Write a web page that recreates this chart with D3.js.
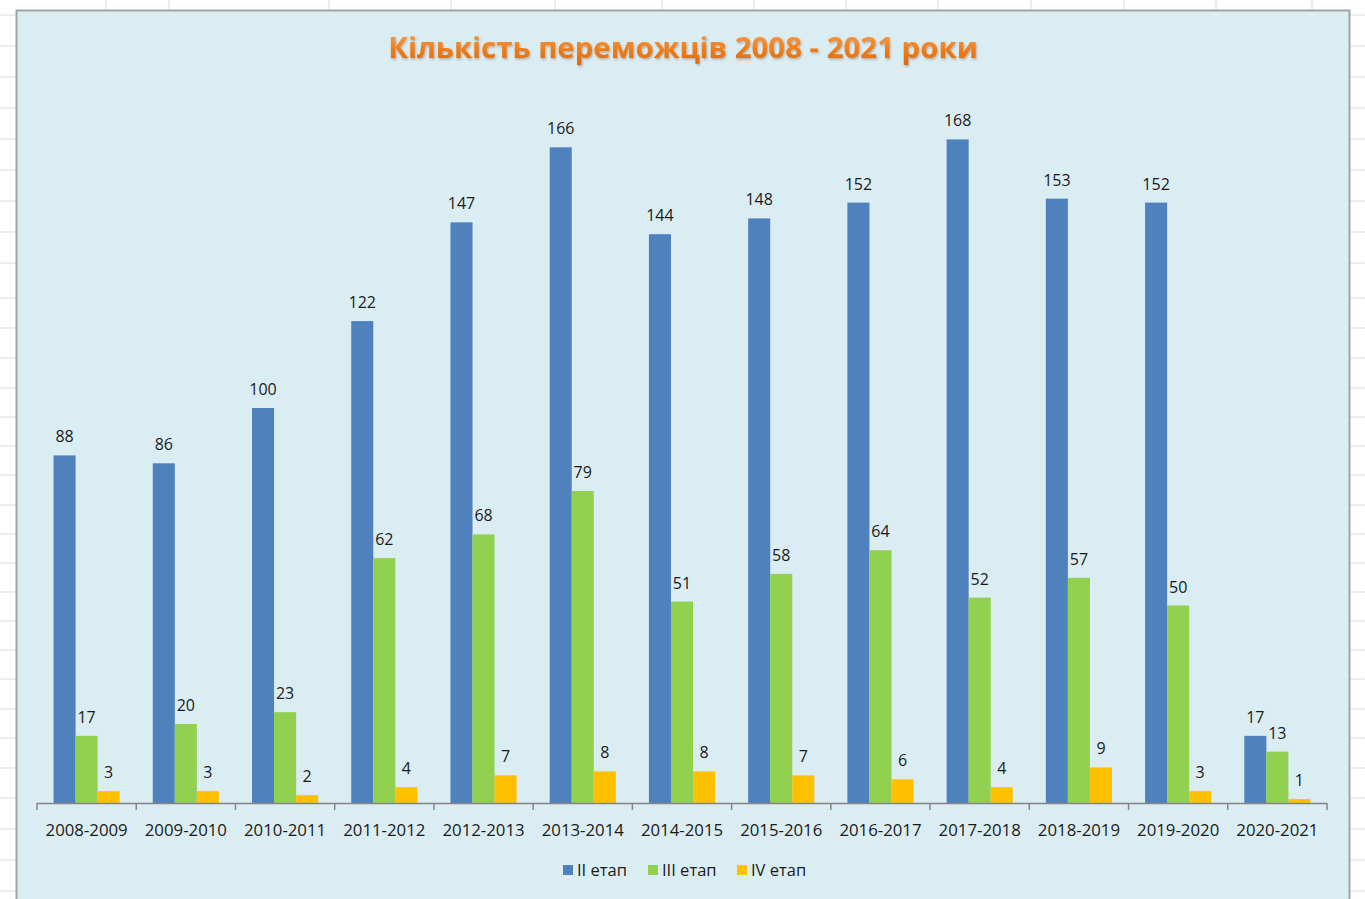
<!DOCTYPE html>
<html>
<head>
<meta charset="utf-8">
<script src="https://cdn.jsdelivr.net/npm/d3@7"></script>
<style>
  body { margin: 0; background: #fff; }
  svg { display: block; }
</style>
</head>
<body>
<div id="chart"></div>
<script>
const categories = ['2008-2009', '2009-2010', '2010-2011', '2011-2012', '2012-2013', '2013-2014', '2014-2015',
  '2015-2016', '2016-2017', '2017-2018', '2018-2019', '2019-2020', '2020-2021'];
const seriesNames = ['II етап', 'III етап', 'IV етап'];
const stage2 = [88, 86, 100, 122, 147, 166, 144, 148, 152, 168, 153, 152, 17];
const stage3 = [17, 20, 23, 62, 68, 79, 51, 58, 64, 52, 57, 50, 13];
const stage4 = [3, 3, 2, 4, 7, 8, 8, 7, 6, 4, 9, 3, 1];
const colors = ['#4f81bd', '#92d050', '#ffc000'];
const title = 'Кількість переможців 2008 - 2021 роки';

// spreadsheet behind the chart
const colLines = [106, 169, 329, 451, 555, 662, 754, 846, 938, 1031, 1124, 1216, 1312];
const rowLines = [15, 46, 77, 108, 139, 170, 201, 232, 263, 298, 328, 358, 388, 417, 446, 475, 505, 534, 563, 592, 621, 650, 679, 709, 738, 768, 798, 829, 860, 891];

const W = 1365, H = 899;
const svg = d3.select('#chart').append('svg').attr('width', W).attr('height', H);
const font = '"Open Sans", "DejaVu Sans", sans-serif';

// sheet grid
svg.selectAll('line.col').data(colLines).join('line')
  .attr('x1', d => d).attr('x2', d => d).attr('y1', 0).attr('y2', H)
  .attr('stroke', '#dadada').attr('stroke-width', 1);
svg.selectAll('line.row').data(rowLines).join('line')
  .attr('x1', 0).attr('x2', W).attr('y1', d => d).attr('y2', d => d)
  .attr('stroke', '#dadada').attr('stroke-width', 1);

// chart area
svg.append('rect')
  .attr('x', 16.5).attr('y', 10.5).attr('width', 1333).attr('height', H)
  .attr('fill', '#daedf3').attr('stroke', '#a3a3a3').attr('stroke-width', 2);

const defs = svg.append('defs');
const grad = defs.append('linearGradient').attr('id', 'tg').attr('x1', 0).attr('y1', 0).attr('x2', 0).attr('y2', 1);
grad.append('stop').attr('offset', '0%').attr('stop-color', '#fba85c');
grad.append('stop').attr('offset', '55%').attr('stop-color', '#ee7d1a');
grad.append('stop').attr('offset', '100%').attr('stop-color', '#d8680c');
const sh = defs.append('filter').attr('id', 'sh').attr('x', '-5%').attr('y', '-20%').attr('width', '110%').attr('height', '150%');
sh.append('feDropShadow').attr('dx', 1).attr('dy', 1.5).attr('stdDeviation', 1).attr('flood-color', '#7a4a20').attr('flood-opacity', 0.4);

const t = svg.append('text')
  .attr('x', 683).attr('y', 58).attr('text-anchor', 'middle')
  .attr('font-family', font).attr('font-weight', 700).attr('font-size', 28)
  .attr('fill', 'url(#tg)').attr('filter', 'url(#sh)')
  .text(title);
const tw = t.node().getComputedTextLength();
t.attr('font-size', 28 * 590 / tw);

// scales
const x = d3.scaleBand().domain(categories).range([37, 1327]).paddingInner(0).paddingOuter(0);
const xs = d3.scaleBand().domain(seriesNames).range([0, x.bandwidth()]).paddingInner(0).paddingOuter(0.75);
const y = d3.scaleLinear().domain([0, 180]).range([803, 92]);

const rows = categories.map((c, i) => ({
  cat: c,
  vals: [stage2[i], stage3[i], stage4[i]].map((v, k) => ({ name: seriesNames[k], v: v, k: k }))
}));

const groups = svg.append('g').selectAll('g').data(rows).join('g')
  .attr('transform', d => `translate(${x(d.cat)},0)`);

groups.selectAll('rect').data(d => d.vals).join('rect')
  .attr('x', d => xs(d.name))
  .attr('y', d => y(d.v))
  .attr('width', xs.bandwidth())
  .attr('height', d => y(0) - y(d.v))
  .attr('fill', d => colors[d.k]);

groups.selectAll('text').data(d => d.vals).join('text')
  .attr('x', d => xs(d.name) + xs.bandwidth() / 2)
  .attr('y', d => y(d.v) - 13)
  .attr('text-anchor', 'middle')
  .attr('font-family', font).attr('font-size', 16).attr('fill', '#1a1a1a')
  .text(d => d.v);

// category axis
const axisG = svg.append('g').attr('transform', `translate(0,${y(0)})`);
axisG.call(d3.axisBottom(x).tickSize(0).tickPadding(0));
axisG.select('.domain').remove();
axisG.selectAll('text')
  .attr('y', 33).attr('dy', 0)
  .attr('font-family', font).attr('font-size', 16.8).attr('fill', '#1a1a1a');

const bounds = categories.map(c => x(c)).concat([x.range()[1]]);
axisG.append('line')
  .attr('x1', x.range()[0]).attr('x2', x.range()[1]).attr('y1', 0.5).attr('y2', 0.5)
  .attr('stroke', '#858585').attr('stroke-width', 1.5);
axisG.selectAll('line.tk').data(bounds).join('line')
  .attr('class', 'tk')
  .attr('x1', d => d).attr('x2', d => d).attr('y1', 0).attr('y2', 7)
  .attr('stroke', '#858585').attr('stroke-width', 1.5);

// legend
const legX = [563, 648, 737];
const leg = svg.append('g').selectAll('g').data(seriesNames).join('g')
  .attr('transform', (d, i) => `translate(${legX[i]},865)`);
leg.append('rect').attr('width', 10).attr('height', 10).attr('fill', (d, i) => colors[i]);
leg.append('text').attr('x', 14).attr('y', 10.5)
  .attr('font-family', font).attr('font-size', 16.5).attr('fill', '#1a1a1a')
  .text(d => d);
</script>
</body>
</html>
